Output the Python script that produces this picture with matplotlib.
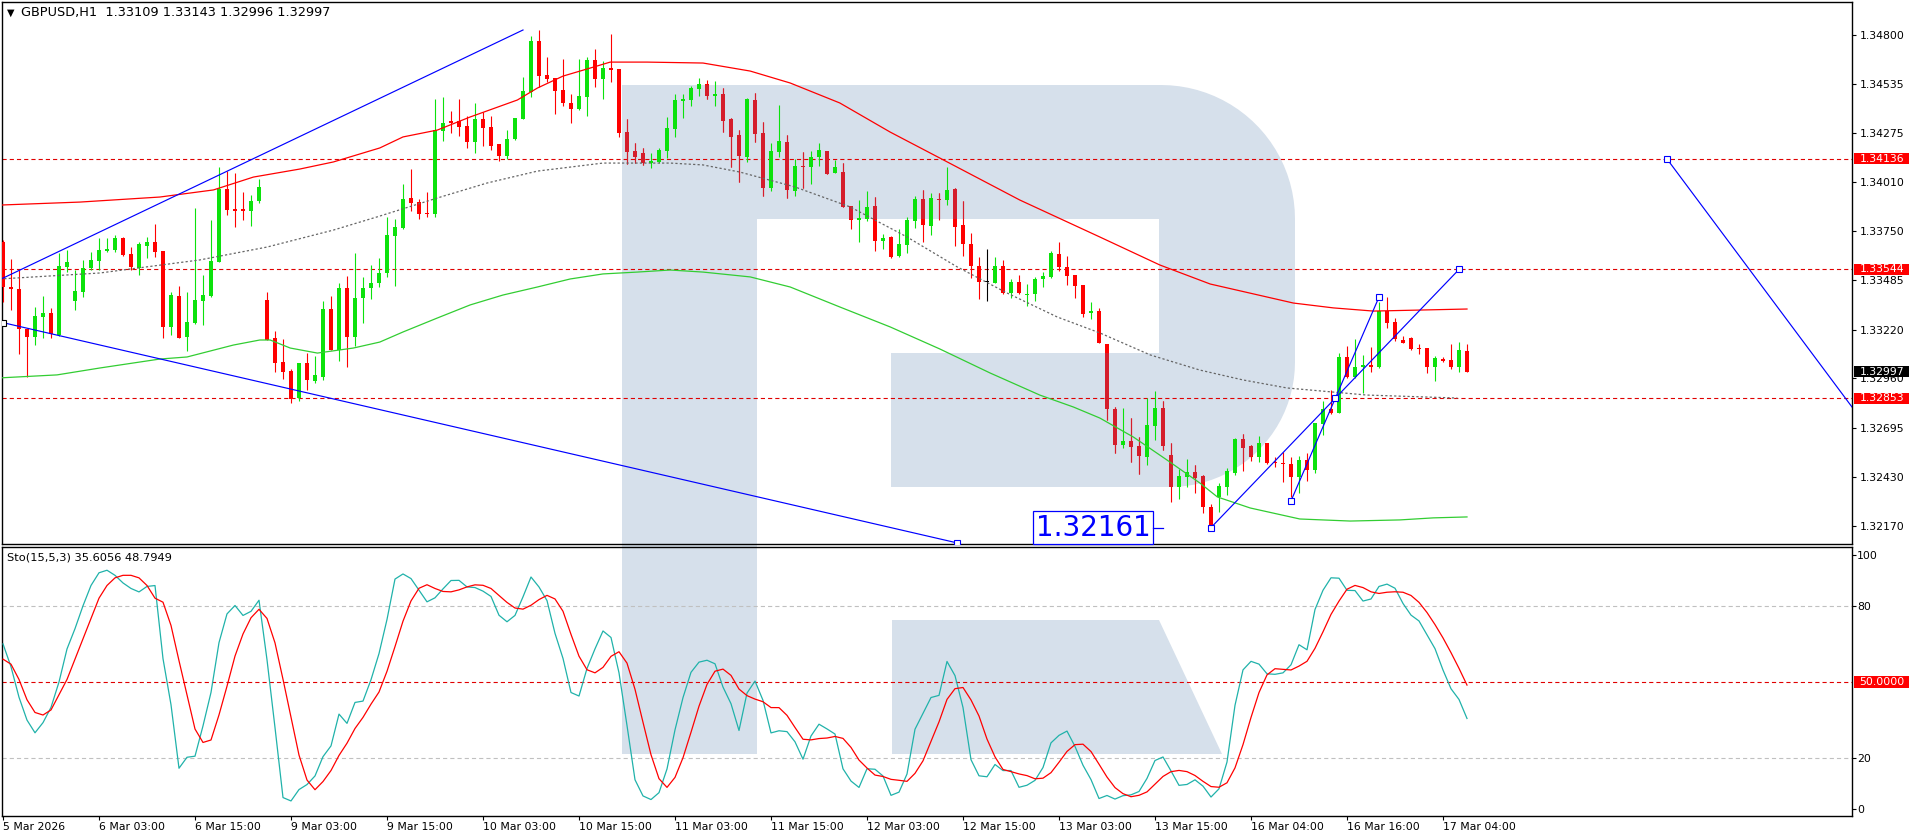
import numpy as np
import pandas as pd
import matplotlib
matplotlib.use("Agg")
import matplotlib.pyplot as plt
import matplotlib.transforms as mtransforms
from matplotlib.patches import Rectangle, Polygon

plt.rcParams['font.family'] = ['DejaVu Sans']
plt.rcParams['lines.scale_dashes'] = False

# GBPUSD H1 candles
open_ = [1.33693, 1.33452, 1.33438, 1.33223, 1.33180, 1.33291, 1.33309, 1.33193, 1.33559, 1.33377,
         1.33425, 1.33550, 1.33591, 1.33645, 1.33648, 1.33711, 1.33625, 1.33550, 1.33671, 1.33691,
         1.33643, 1.33234, 1.33402, 1.33184, 1.33255, 1.33377, 1.33402, 1.33586, 1.33975, 1.33868,
         1.33868, 1.33859, 1.33911, 1.33380, 1.33179, 1.33050, 1.33000, 1.32854, 1.33045, 1.32948,
         1.32966, 1.33334, 1.33113, 1.33447, 1.33184, 1.33389, 1.33447, 1.33470, 1.33523, 1.33723,
         1.33764, 1.33925, 1.33904, 1.33848, 1.33841, 1.34286, 1.34341, 1.34339, 1.34313, 1.34229,
         1.34350, 1.34305, 1.34214, 1.34152, 1.34241, 1.34350, 1.34496, 1.34768, 1.34586, 1.34568,
         1.34505, 1.34434, 1.34404, 1.34470, 1.34666, 1.34564, 1.34621, 1.34618, 1.34279, 1.34179,
         1.34166, 1.34113, 1.34121, 1.34180, 1.34296, 1.34446, 1.34452, 1.34511, 1.34538, 1.34473,
         1.34484, 1.34348, 1.34264, 1.34148, 1.34452, 1.34277, 1.33982, 1.34175, 1.34229, 1.33966,
         1.34098, 1.34095, 1.34145, 1.34179, 1.34062, 1.34066, 1.33884, 1.33809, 1.33812, 1.33884,
         1.33698, 1.33716, 1.33616, 1.33677, 1.33805, 1.33920, 1.33777, 1.33923, 1.33916, 1.33973,
         1.33782, 1.33680, 1.33562, 1.33475, 1.33473, 1.33562, 1.33420, 1.33475, 1.33405, 1.33413,
         1.33491, 1.33505, 1.33627, 1.33555, 1.33514, 1.33461, 1.33309, 1.33321, 1.33145, 1.32797,
         1.32603, 1.32625, 1.32598, 1.32541, 1.32705, 1.32800, 1.32550, 1.32380, 1.32434, 1.32461,
         1.32438, 1.32270, 1.32323, 1.32380, 1.32455, 1.32636, 1.32598, 1.32538, 1.32612, 1.32511,
         1.32505, 1.32502, 1.32434, 1.32523, 1.32470, 1.32716, 1.32795, 1.32777, 1.33073, 1.32970,
         1.33020, 1.33032, 1.33020, 1.33321, 1.33261, 1.33166, 1.33175, 1.33121, 1.33121, 1.33023,
         1.33062, 1.33059, 1.33020, 1.33109]
high = [1.33702, 1.33598, 1.33541, 1.33223, 1.33345, 1.33402, 1.33336, 1.33630, 1.33648, 1.33541,
        1.33595, 1.33639, 1.33711, 1.33711, 1.33729, 1.33720, 1.33666, 1.33693, 1.33720, 1.33788,
        1.33643, 1.33425, 1.33455, 1.33425, 1.33871, 1.33514, 1.33809, 1.34095, 1.34073, 1.34059,
        1.33957, 1.33943, 1.34027, 1.33425, 1.33214, 1.33170, 1.33009, 1.33045, 1.33098, 1.33080,
        1.33375, 1.33402, 1.33470, 1.33509, 1.33634, 1.33502, 1.33568, 1.33607, 1.33827, 1.33813,
        1.34002, 1.34080, 1.33920, 1.33959, 1.34457, 1.34466, 1.34395, 1.34455, 1.34368, 1.34434,
        1.34386, 1.34368, 1.34214, 1.34291, 1.34354, 1.34573, 1.34795, 1.34827, 1.34684, 1.34568,
        1.34670, 1.34484, 1.34670, 1.34680, 1.34723, 1.34663, 1.34805, 1.34618, 1.34348, 1.34220,
        1.34193, 1.34166, 1.34193, 1.34363, 1.34484, 1.34484, 1.34527, 1.34568, 1.34559, 1.34554,
        1.34514, 1.34354, 1.34291, 1.34464, 1.34491, 1.34336, 1.34223, 1.34425, 1.34264, 1.34134,
        1.34175, 1.34180, 1.34223, 1.34179, 1.34130, 1.34116, 1.33884, 1.33916, 1.33966, 1.33930,
        1.33734, 1.33723, 1.33761, 1.33827, 1.33938, 1.33970, 1.33955, 1.33955, 1.34095, 1.33979,
        1.33912, 1.33738, 1.33609, 1.33654, 1.33609, 1.33595, 1.33493, 1.33514, 1.33464, 1.33502,
        1.33532, 1.33643, 1.33693, 1.33616, 1.33514, 1.33461, 1.33368, 1.33336, 1.33145, 1.32809,
        1.32800, 1.32750, 1.32648, 1.32854, 1.32895, 1.32841, 1.32612, 1.32473, 1.32527, 1.32496,
        1.32443, 1.32288, 1.32402, 1.32479, 1.32639, 1.32663, 1.32604, 1.32652, 1.32616, 1.32541,
        1.32568, 1.32538, 1.32545, 1.32563, 1.32723, 1.32841, 1.32898, 1.33098, 1.33134, 1.33170,
        1.33086, 1.33130, 1.33371, 1.33398, 1.33282, 1.33188, 1.33180, 1.33145, 1.33121, 1.33080,
        1.33077, 1.33145, 1.33154, 1.33143]
low = [1.33372, 1.33327, 1.33089, 1.32970, 1.33139, 1.33175, 1.33175, 1.33188, 1.33532, 1.33327,
       1.33398, 1.33541, 1.33541, 1.33636, 1.33639, 1.33616, 1.33541, 1.33514, 1.33604, 1.33613,
       1.33175, 1.33193, 1.33175, 1.33109, 1.33252, 1.33247, 1.33398, 1.33586, 1.33836, 1.33773,
       1.33809, 1.33777, 1.33902, 1.33166, 1.32997, 1.32957, 1.32827, 1.32839, 1.32898, 1.32934,
       1.32952, 1.33113, 1.33055, 1.33023, 1.33136, 1.33259, 1.33384, 1.33452, 1.33505, 1.33455,
       1.33759, 1.33859, 1.33814, 1.33827, 1.33827, 1.34234, 1.34277, 1.34261, 1.34193, 1.34170,
       1.34205, 1.34184, 1.34127, 1.34134, 1.34238, 1.34350, 1.34466, 1.34523, 1.34550, 1.34377,
       1.34420, 1.34330, 1.34398, 1.34366, 1.34523, 1.34457, 1.34550, 1.34255, 1.34109, 1.34116,
       1.34104, 1.34089, 1.34116, 1.34139, 1.34255, 1.34357, 1.34421, 1.34473, 1.34455, 1.34420,
       1.34282, 1.34095, 1.34014, 1.34121, 1.34229, 1.33937, 1.33966, 1.34148, 1.33929, 1.33939,
       1.33982, 1.34002, 1.34098, 1.34055, 1.34059, 1.33880, 1.33759, 1.33689, 1.33804, 1.33645,
       1.33654, 1.33604, 1.33609, 1.33630, 1.33764, 1.33693, 1.33729, 1.33809, 1.33889, 1.33671,
       1.33616, 1.33496, 1.33386, 1.33377, 1.33470, 1.33413, 1.33393, 1.33413, 1.33350, 1.33377,
       1.33452, 1.33500, 1.33538, 1.33461, 1.33393, 1.33291, 1.33277, 1.33148, 1.32737, 1.32559,
       1.32586, 1.32514, 1.32448, 1.32496, 1.32630, 1.32577, 1.32300, 1.32313, 1.32377, 1.32345,
       1.32241, 1.32161, 1.32246, 1.32336, 1.32443, 1.32466, 1.32518, 1.32511, 1.32500, 1.32488,
       1.32407, 1.32327, 1.32345, 1.32411, 1.32455, 1.32657, 1.32768, 1.32773, 1.32964, 1.32961,
       1.32884, 1.32996, 1.33014, 1.33232, 1.33163, 1.33152, 1.33113, 1.33091, 1.32991, 1.32948,
       1.33050, 1.33011, 1.32996, 1.32996]
close = [1.33452, 1.33438, 1.33223, 1.33180, 1.33295, 1.33309, 1.33198, 1.33563, 1.33584, 1.33429,
         1.33550, 1.33595, 1.33648, 1.33652, 1.33711, 1.33621, 1.33555, 1.33680, 1.33691, 1.33639,
         1.33234, 1.33407, 1.33179, 1.33261, 1.33380, 1.33407, 1.33589, 1.33975, 1.33863, 1.33859,
         1.33859, 1.33911, 1.33988, 1.33166, 1.33045, 1.32997, 1.32850, 1.33045, 1.32952, 1.32979,
         1.33334, 1.33113, 1.33447, 1.33184, 1.33393, 1.33447, 1.33473, 1.33523, 1.33729, 1.33770,
         1.33920, 1.33902, 1.33841, 1.33839, 1.34291, 1.34327, 1.34330, 1.34309, 1.34229, 1.34350,
         1.34304, 1.34205, 1.34152, 1.34243, 1.34354, 1.34500, 1.34768, 1.34582, 1.34564, 1.34502,
         1.34438, 1.34404, 1.34473, 1.34666, 1.34566, 1.34621, 1.34612, 1.34277, 1.34175, 1.34145,
         1.34113, 1.34125, 1.34184, 1.34300, 1.34452, 1.34457, 1.34514, 1.34538, 1.34473, 1.34484,
         1.34341, 1.34255, 1.34152, 1.34457, 1.34270, 1.33982, 1.34180, 1.34232, 1.33970, 1.34098,
         1.34095, 1.34145, 1.34184, 1.34055, 1.34091, 1.33880, 1.33809, 1.33821, 1.33877, 1.33698,
         1.33711, 1.33613, 1.33679, 1.33809, 1.33920, 1.33782, 1.33925, 1.33916, 1.33970, 1.33773,
         1.33680, 1.33562, 1.33479, 1.33475, 1.33562, 1.33420, 1.33475, 1.33420, 1.33413, 1.33493,
         1.33509, 1.33630, 1.33559, 1.33511, 1.33457, 1.33305, 1.33321, 1.33148, 1.32795, 1.32604,
         1.32625, 1.32595, 1.32546, 1.32711, 1.32800, 1.32598, 1.32380, 1.32438, 1.32461, 1.32425,
         1.32270, 1.32170, 1.32384, 1.32464, 1.32636, 1.32589, 1.32538, 1.32612, 1.32505, 1.32505,
         1.32500, 1.32434, 1.32523, 1.32470, 1.32720, 1.32795, 1.32777, 1.33073, 1.32970, 1.33020,
         1.33032, 1.33020, 1.33321, 1.33259, 1.33170, 1.33152, 1.33116, 1.33118, 1.33023, 1.33068,
         1.33055, 1.33020, 1.33113, 1.32997]

# indicator lines on the price panel (bar index, price)
red_ma_bar = [-0.4, 9.6, 19.6, 26.3, 31.3, 37.1, 41.3, 47.1, 50.0, 54.3, 58.4, 64.3, 66.8, 70.0, 73.0,
              75.9, 80.5, 87.5, 93.4, 98.4, 104.6, 110.9, 117.1, 127.1, 137.1, 144.6, 150.9, 161.3,
              166.3, 171.3, 183.0]
red_ma_val = [1.33889, 1.33905, 1.33932, 1.33970, 1.34039, 1.34082, 1.34120, 1.34195, 1.34254, 1.34291,
              1.34361, 1.34452, 1.34516, 1.34580, 1.34618, 1.34655, 1.34655, 1.34650, 1.34607, 1.34543,
              1.34436, 1.34280, 1.34141, 1.33916, 1.33718, 1.33568, 1.33466, 1.33364, 1.33338, 1.33321,
              1.33332]
gray_ma_bar = [-0.4, 12.1, 24.6, 33.0, 41.3, 47.1, 54.3, 60.5, 66.8, 75.0, 83.4, 87.5, 92.1, 99.0,
               105.9, 113.0, 119.3, 125.5, 131.8, 137.1, 143.4, 149.6, 155.0, 160.5, 170.5, 181.8]
gray_ma_val = [1.33493, 1.33525, 1.33595, 1.33664, 1.33755, 1.33830, 1.33927, 1.34007, 1.34071, 1.34114,
               1.34114, 1.34104, 1.34066, 1.33986, 1.33879, 1.33718, 1.33557, 1.33418, 1.33289, 1.33204,
               1.33086, 1.33005, 1.32952, 1.32909, 1.32871, 1.32855]
green_ma_bar = [-0.4, 6.75, 12.1, 19.6, 23.0, 28.8, 32.1, 33.4, 35.9, 39.3, 43.8, 47.1, 50.0, 54.3,
                58.4, 62.5, 66.8, 70.9, 75.0, 79.3, 83.4, 87.5, 93.4, 98.4, 104.6, 110.9, 117.1, 123.4,
                129.6, 133.8, 137.1, 141.3, 145.5, 149.6, 151.8, 155.9, 162.1, 168.4, 174.6, 178.8, 183.0]
green_ma_val = [1.32963, 1.32979, 1.33016, 1.33064, 1.33075, 1.33139, 1.33166, 1.33166, 1.33123, 1.33096,
                1.33123, 1.33155, 1.33209, 1.33284, 1.33354, 1.33407, 1.33450, 1.33493, 1.33520, 1.33530,
                1.33541, 1.33530, 1.33504, 1.33450, 1.33343, 1.33236, 1.33118, 1.32989, 1.32871, 1.32807,
                1.32748, 1.32646, 1.32523, 1.32400, 1.32325, 1.32266, 1.32207, 1.32196, 1.32202, 1.32213,
                1.32218]

# drawn objects
channel_up_bar = [-0.125, 65]
channel_up_val = [1.33495, 1.34827]
channel_dn_bar = [0, 119.25]
channel_dn_val = [1.33259, 1.32079]
wave_a_bar = [151, 182]
wave_a_val = [1.32161, 1.33544]
wave_b_bar = [161, 172]
wave_b_val = [1.32304, 1.33396]
target_bar = [208, 231.125]
target_val = [1.34136, 1.32807]
anchor_bar = [151, 161, 166.5, 172, 182, 208, 119.25]
anchor_val = [1.32161, 1.32304, 1.32853, 1.33396, 1.33544, 1.34136, 1.32079]
low_label = 1.32161

levels = [1.34136, 1.33544, 1.32853]
last_price = 1.32997
price_ticks = [1.34800, 1.34535, 1.34275, 1.34010, 1.33750, 1.33485, 1.33220, 1.32960, 1.32695,
               1.32430, 1.32170]
tick_bars = list(range(0, 181, 12))
tick_labels = ['5 Mar 2026', '6 Mar 03:00', '6 Mar 15:00', '9 Mar 03:00', '9 Mar 15:00',
               '10 Mar 03:00', '10 Mar 15:00', '11 Mar 03:00', '11 Mar 15:00', '12 Mar 03:00',
               '12 Mar 15:00', '13 Mar 03:00', '13 Mar 15:00', '16 Mar 04:00', '16 Mar 16:00',
               '17 Mar 04:00']

K, D, SLOW = 15, 5, 3
sto_main_head = [65, 56, 44, 35, 30, 34, 40, 50, 63, 71, 80, 88, 93, 94, 92, 89]
sto_signal_head = [59, 57, 51, 43, 38, 37, 39, 45, 51, 59, 67, 75, 83, 88, 91, 92, 92, 91, 88, 83]

BULL = '#0ce20c'
BEAR = '#ff0000'
BEAR_WM = '#d51d2b'   # red candles seen through the logo
WM = '#d6e0eb'
dash = (0, (3.0, 2.2))

o = np.array(open_); h = np.array(high); l = np.array(low); c = np.array(close)
n = len(c)
idx = np.arange(n)

main = np.full(n, np.nan)
for t in range(K + SLOW - 2, n):
    num = den = 0.0
    for j in range(t - SLOW + 1, t + 1):
        ll = l[j - K + 1:j + 1].min()
        hh = h[j - K + 1:j + 1].max()
        num += c[j] - ll
        den += hh - ll
    main[t] = 100 * num / den
main[:len(sto_main_head)] = sto_main_head
signal = pd.Series(main).rolling(D).mean().to_numpy()
signal[:len(sto_signal_head)] = sto_signal_head

W, H = 1916, 840
fig = plt.figure(figsize=(W / 100, H / 100), dpi=100, facecolor='white')


def box(x0, y0, x1, y1):
    return [x0 / W, 1 - y1 / H, (x1 - x0) / W, (y1 - y0) / H]


# watermark logo behind both panels
bg = fig.add_axes([0, 0, 1, 1], zorder=0)
bg.set_xlim(0, W); bg.set_ylim(H, 0); bg.axis('off')
ang = np.linspace(0, np.pi / 2, 24)
outline = [(622, 85), (1161, 85)]
outline += list(zip(1161 + 134 * np.sin(ang), 219 - 134 * np.cos(ang)))
outline += list(zip(1170 + 125 * np.cos(ang), 362 + 125 * np.sin(ang)))
outline += [(891, 487), (891, 353), (1159, 353), (1159, 219), (757, 219), (757, 754), (622, 754)]
logo = Polygon(outline, closed=True, fc=WM, ec='none')
bg.add_patch(logo)
bg.add_patch(Polygon([(892, 620), (1159, 620), (1222, 754), (892, 754)], closed=True, fc=WM, ec='none'))

XL = (-0.125, 231.125)
ax = fig.add_axes(box(2, 2, 1852, 544), zorder=2, facecolor='none')
ax2 = fig.add_axes(box(2, 547, 1852, 816), zorder=2, facecolor='none')
for a in (ax, ax2):
    a.set_xlim(*XL)
    for s in a.spines.values():
        s.set_linewidth(1.0)
        s.set_color('black')

ax.set_ylim(1.32073, 1.34977)

# levels
for lv in levels:
    ax.axhline(lv, color='#e00000', lw=0.8, ls=dash, zorder=2)

# candles
col = np.where(c > o, BULL, np.where(c < o, BEAR, 'black'))
body_h = np.maximum(np.abs(c - o), 0.00005)
body_lo = np.minimum(o, c)
ax.vlines(idx, l, h, colors=col, lw=0.8, zorder=3)
ax.bar(idx, body_h, bottom=body_lo, width=0.62, color=col, linewidth=0, zorder=4)
# darker red where the candles sit over the logo
dn = c < o
wk = ax.vlines(idx[dn], l[dn], h[dn], colors=BEAR_WM, lw=0.8, zorder=3.5)
bd = ax.bar(idx[dn], body_h[dn], bottom=body_lo[dn], width=0.62, color=BEAR_WM, linewidth=0,
            zorder=4.5)
wk.set_clip_path(logo)
for r in bd:
    r.set_clip_path(logo)

# indicator lines
ax.plot(red_ma_bar, red_ma_val, color='#ff0000', lw=0.9, zorder=5)
ax.plot(gray_ma_bar, gray_ma_val, color='#666666', lw=0.9, ls=(0, (1.6, 1.6)), zorder=5)
ax.plot(green_ma_bar, green_ma_val, color='#32cd32', lw=0.9, zorder=5)

# trend lines and forecast
for xs, ys in [(channel_up_bar, channel_up_val), (channel_dn_bar, channel_dn_val),
               (wave_a_bar, wave_a_val), (wave_b_bar, wave_b_val), (target_bar, target_val)]:
    ax.plot(xs, ys, color='#0000ff', lw=0.85, zorder=6)
ax.plot(anchor_bar, anchor_val, ls='none', marker='s', ms=4, mfc='white', mec='#0000ff',
        mew=0.8, zorder=7)
ax.plot([channel_dn_bar[0]], [channel_dn_val[0]], ls='none', marker='s', ms=4, mfc='white',
        mec='black', mew=0.8, zorder=7)

ax.text(136.25, low_label, f'{low_label:.5f}', fontsize=20, color='#0000ff', ha='center',
        va='center', zorder=8,
        bbox=dict(boxstyle='square,pad=0.08', fc='white', ec='#0000ff', lw=0.9))
ax.plot([143.75, 145], [low_label, low_label], color='#0000ff', lw=0.9, zorder=8)

# price axis
ax.set_xticks([])
ax.yaxis.tick_right()
ax.set_yticks(price_ticks)
ax.set_yticklabels([f'{p:.5f}' for p in price_ticks])
ax.tick_params(axis='y', direction='out', length=3, width=0.8, pad=2.6, labelsize=7.8,
               colors='black')

px_price = (1.34977 - 1.32073) / 542
trans = mtransforms.blended_transform_factory(ax.transAxes, ax.transData)
for val, fc in [(levels[0], '#ff0000'), (levels[1], '#ff0000'), (levels[2], '#ff0000'),
                (last_price, 'black')]:
    ax.add_patch(Rectangle((1852 / 1850, val - 5.5 * px_price), 55 / 1850, 11 * px_price,
                           transform=trans, fc=fc, ec='none', clip_on=False, zorder=10))
    ax.text(1858 / 1850, val, f'{val:.5f}', transform=trans, color='white', fontsize=7.8,
            ha='left', va='center', clip_on=False, zorder=11)

# stochastic panel
ax2.set_ylim(-2.76, 103.15)
ax2.axhline(80, color='#c0c0c0', lw=0.8, ls=dash)
ax2.axhline(20, color='#c0c0c0', lw=0.8, ls=dash)
ax2.axhline(50, color='#e00000', lw=0.8, ls=dash)
ax2.plot(idx, main, color='#20b2aa', lw=0.9, zorder=4)
ax2.plot(idx, signal, color='#ff0000', lw=0.9, zorder=5)
ax2.yaxis.tick_right()
ax2.set_yticks([0, 20, 80, 100])
ax2.set_yticklabels(['0', '20', '80', '100'])
ax2.tick_params(axis='y', direction='out', length=3, width=0.8, pad=0.8, labelsize=7.8,
                colors='black')
trans2 = mtransforms.blended_transform_factory(ax2.transAxes, ax2.transData)
ax2.add_patch(Rectangle((1852 / 1850, 50 - 2.17), 55 / 1850, 4.34, transform=trans2,
                        fc='#ff0000', ec='none', clip_on=False, zorder=10))
ax2.text(1857 / 1850, 50, '50.0000', transform=trans2, color='white', fontsize=7.8,
         ha='left', va='center', clip_on=False, zorder=11)

ax2.set_xticks(tick_bars)
ax2.set_xticklabels(tick_labels, ha='left')
ax2.tick_params(axis='x', direction='out', length=3, width=0.8, pad=1.5, labelsize=7.8,
                colors='black')

# header texts
fig.text(7 / W, 1 - 12.5 / H, '\u25bc', fontsize=7, va='center', ha='left')
fig.text(21 / W, 1 - 12.5 / H, 'GBPUSD,H1  1.33109 1.33143 1.32996 1.32997', fontsize=9.3,
         va='center', ha='left')
fig.text(7 / W, 1 - 557 / H, 'Sto(15,5,3) 35.6056 48.7949', fontsize=8.2, va='center', ha='left')

fig.savefig('out.png', dpi=100, facecolor='white')
